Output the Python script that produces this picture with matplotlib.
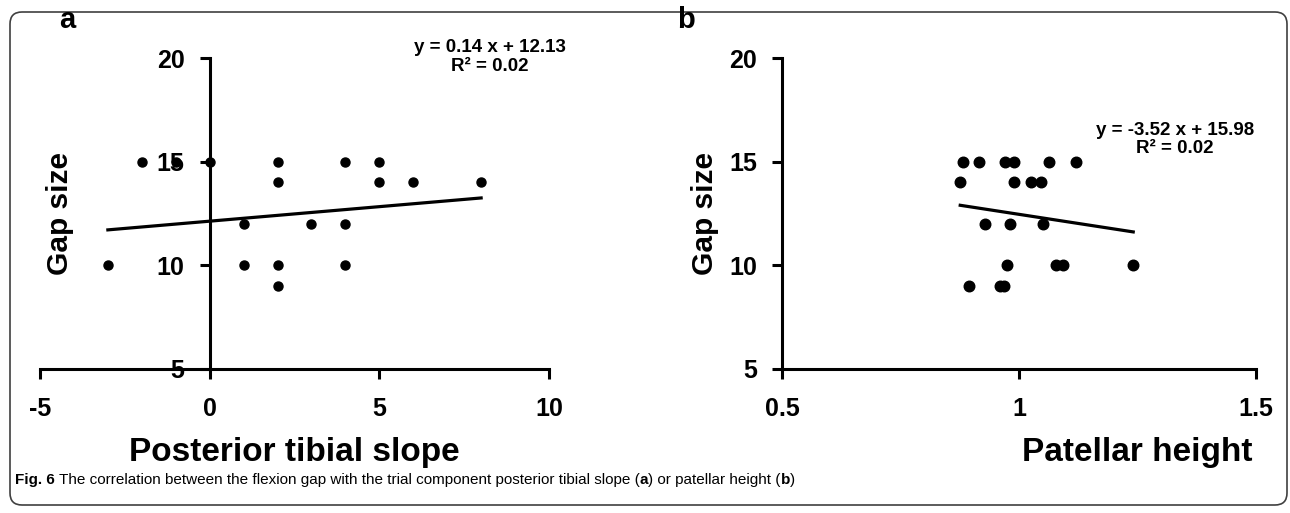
import matplotlib
matplotlib.use("Agg")
import matplotlib.pyplot as plt
from matplotlib.patches import FancyBboxPatch
from matplotlib.transforms import IdentityTransform

plt.rcParams['font.family'] = ['Liberation Sans', 'DejaVu Sans']

# ---------------- data ----------------
# Panel a: posterior tibial slope vs gap size
slope_x = [-3, -2, -1, 0, 1, 1, 2, 2, 2, 2, 3, 4, 4, 4, 5, 5, 6, 8]
slope_gap = [10, 15, 15, 15, 12, 10, 15, 14, 10, 9, 12, 15, 12, 10, 15, 14, 14, 14]
fit_a_slope, fit_a_intercept = 0.14, 12.13
eq_a = "y = 0.14 x + 12.13\nR² = 0.02"

# Panel b: patellar height vs gap size
pat_x = [0.882, 0.916, 0.970, 0.989, 1.064, 1.120,
         0.876, 0.990, 1.026, 1.047,
         0.928, 0.980, 1.050,
         0.975, 1.078, 1.092, 1.241,
         0.894, 0.959, 0.969]
pat_gap = [15, 15, 15, 15, 15, 15,
           14, 14, 14, 14,
           12, 12, 12,
           10, 10, 10, 10,
           9, 9, 9]
fit_b_slope, fit_b_intercept = -3.52, 15.98
eq_b = "y = -3.52 x + 15.98\nR² = 0.02"

xticks_a = [-5, 0, 5, 10]
xticklabels_a = ["-5", "0", "5", "10"]
xticks_b = [0.5, 1.0, 1.5]
xticklabels_b = ["0.5", "1", "1.5"]
yticks = [5, 10, 15, 20]
yticklabels = ["5", "10", "15", "20"]

xlabel_a = "Posterior tibial slope"
xlabel_b = "Patellar height"
ylabel = "Gap size"
caption = [("Fig. 6", "bold"),
           (" The correlation between the flexion gap with the trial component posterior tibial slope (", "normal"),
           ("a", "bold"), (") or patellar height (", "normal"), ("b", "bold"), (")", "normal")]

# ---------------- figure ----------------
W, H = 1290, 513
fig = plt.figure(figsize=(W / 100, H / 100), dpi=100)

def px_axes(left, right, top, bottom):
    return [left / W, 1 - bottom / H, (right - left) / W, (bottom - top) / H]

ax_a = fig.add_axes(px_axes(40, 549, 58, 369))
ax_b = fig.add_axes(px_axes(782, 1256, 58, 369))

def style(ax, xlim, xticks, xtl, spine_x):
    ax.set_xlim(*xlim)
    ax.set_ylim(5, 20)
    for s in ("top", "right"):
        ax.spines[s].set_visible(False)
    ax.spines["left"].set_position(("data", spine_x))
    for s in ("left", "bottom"):
        ax.spines[s].set_linewidth(2.2)
        ax.spines[s].set_clip_on(False)
    ax.set_xticks(xticks, xtl, fontsize=18, fontweight="bold")
    ax.set_yticks(yticks, yticklabels, fontsize=18, fontweight="bold")
    ax.tick_params(axis="both", direction="out", length=7, width=2.2, color="black")
    ax.tick_params(axis="x", pad=13)
    ax.tick_params(axis="y", pad=11)
    ax.patch.set_alpha(0)

style(ax_a, (-5, 10), xticks_a, xticklabels_a, 0)
style(ax_b, (0.5, 1.5), xticks_b, xticklabels_b, 0.5)

# scatter + fit lines
ax_a.plot(slope_x, slope_gap, "o", color="black", ms=6.5, clip_on=False, zorder=3)
xa = [min(slope_x), max(slope_x)]
ax_a.plot(xa, [fit_a_slope * v + fit_a_intercept for v in xa], color="black", lw=2.3, zorder=2)

ax_b.plot(pat_x, pat_gap, "o", color="black", ms=7.6, clip_on=False, zorder=3)
xb = [min(pat_x), max(pat_x)]
ax_b.plot(xb, [fit_b_slope * v + fit_b_intercept for v in xb], color="black", lw=2.3, zorder=2)

# equations
ax_a.text(0.884, 1.003, eq_a, transform=ax_a.transAxes, ha="center", va="center",
          fontsize=13.5, fontweight="bold", linespacing=1.1)
ax_b.text(0.829, 0.738, eq_b, transform=ax_b.transAxes, ha="center", va="center",
          fontsize=13.5, fontweight="bold", linespacing=1.1)

# axis labels
ax_a.text(0.5, -0.268, xlabel_a, transform=ax_a.transAxes, ha="center", va="center",
          fontsize=24, fontweight="bold")
ax_b.text(0.749, -0.268, xlabel_b, transform=ax_b.transAxes, ha="center", va="center",
          fontsize=24, fontweight="bold")
ax_a.text(0.039, 0.5, ylabel, transform=ax_a.transAxes, ha="center", va="center",
          rotation=90, fontsize=21.5, fontweight="bold")
ax_b.text(-0.162, 0.5, ylabel, transform=ax_b.transAxes, ha="center", va="center",
          rotation=90, fontsize=21.5, fontweight="bold")

# panel letters
fig.text(67 / W, 1 - 20 / H, "a", ha="center", va="center", fontsize=21, fontweight="bold")
fig.text(686 / W, 1 - 20 / H, "b", ha="center", va="center", fontsize=21, fontweight="bold")

# caption built from segments
renderer = fig.canvas.get_renderer()
xpos = 15
ypix = H - 480
for txt, wt in caption:
    t = fig.text(xpos / W, ypix / H, txt, ha="left", va="center", fontsize=11, fontweight=wt)
    bb = t.get_window_extent(renderer=renderer)
    xpos = bb.x1

# rounded border
border = FancyBboxPatch((10, H - 505), 1277, 493, boxstyle="round,pad=0,rounding_size=12",
                        transform=IdentityTransform(), fill=False, edgecolor="#404040", lw=1.2)
fig.patches.append(border)

fig.savefig("out.png", dpi=100)
